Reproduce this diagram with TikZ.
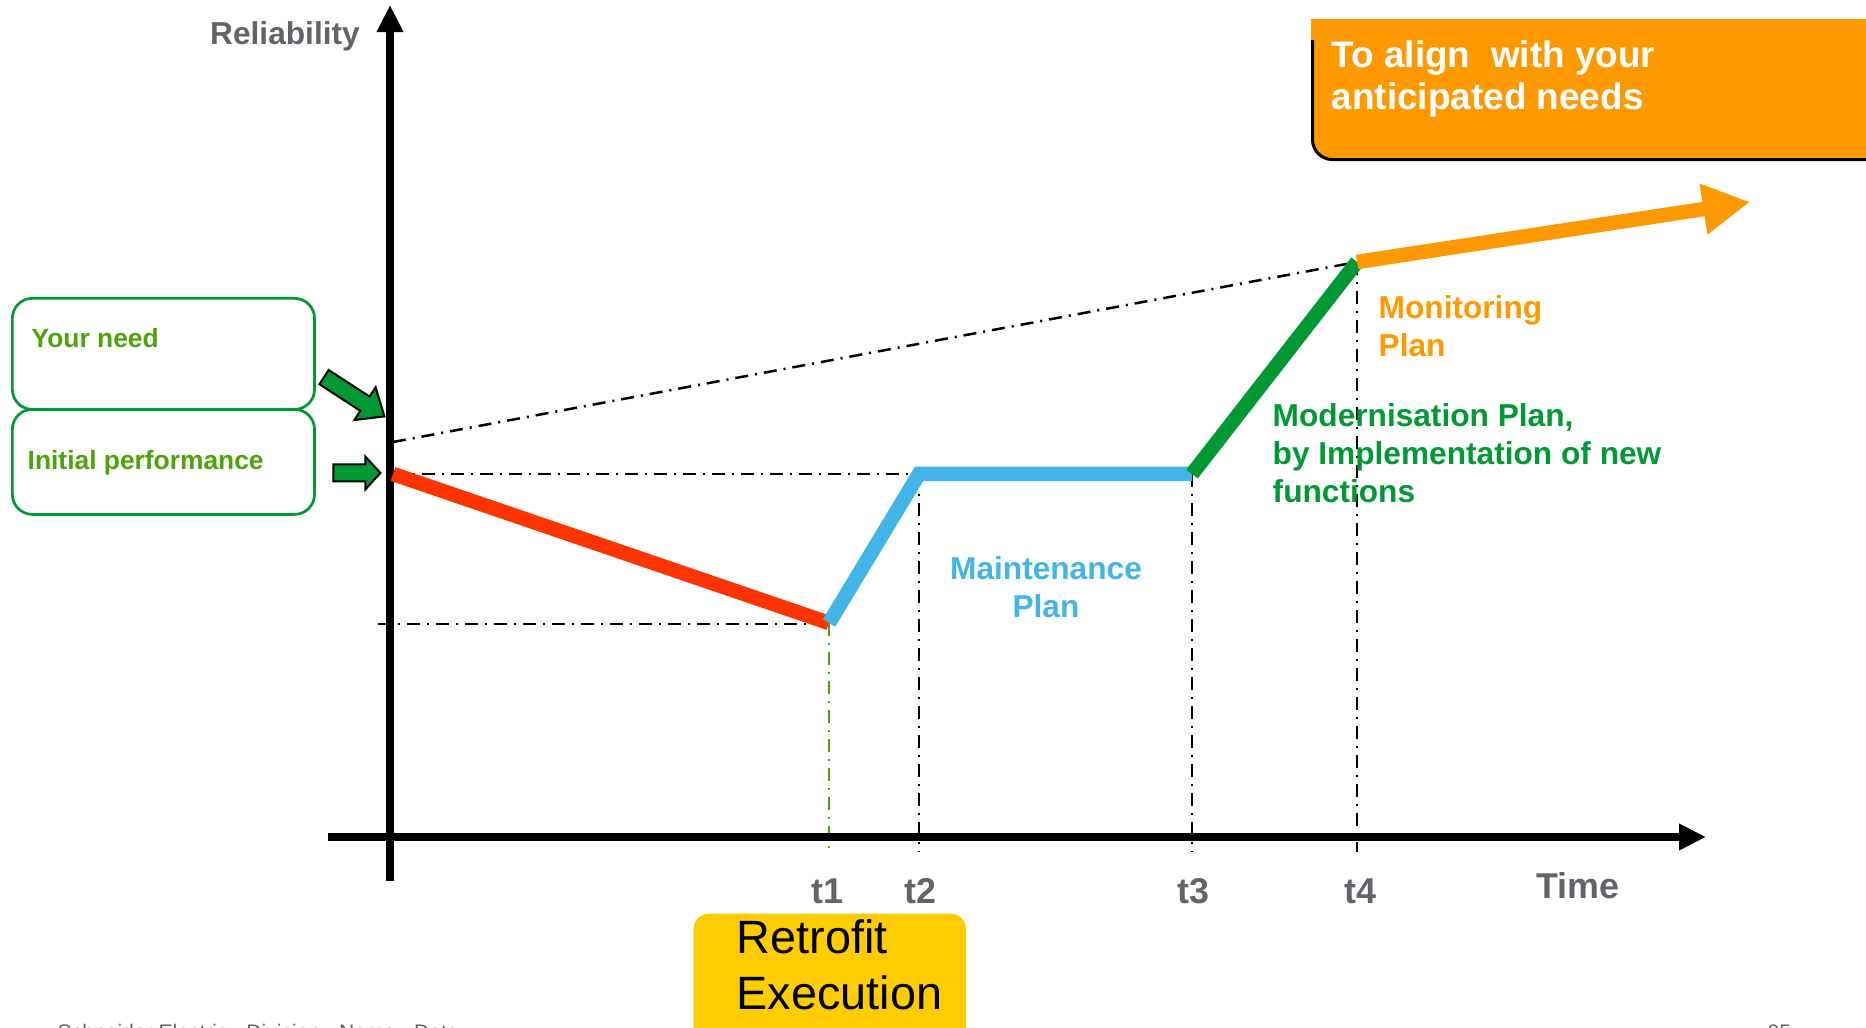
\documentclass[tikz,border=0pt]{standalone}
\usepackage{fontspec}
\setmainfont{Liberation Sans}
\usetikzlibrary{arrows.meta,shapes.arrows}

\definecolor{segray}{HTML}{626469}
\definecolor{segreen}{HTML}{009933}
\definecolor{lightgreen}{HTML}{4CA30A}
\definecolor{seblue}{HTML}{42B4E6}
\definecolor{sered}{HTML}{FF3300}
\definecolor{seorange}{HTML}{FF9900}
\definecolor{seyellow}{HTML}{FFCC00}

\begin{document}
\begin{tikzpicture}[x=0.01cm, y=-0.01cm,
  lbl/.style = {font=\bfseries\fontsize{10.2}{12}\selectfont, text=segray, inner sep=0},
  plan/.style = {font=\bfseries\fontsize{9}{10.9}\selectfont, inner sep=0},
  boxtext/.style = {font=\bfseries\fontsize{7.5}{9}\selectfont, text=lightgreen, inner sep=0},
  axis/.style = {line width=0.08cm, -{Triangle[length=0.27cm, width=0.25cm]}},
  curve/.style = {line width=0.145cm, line cap=butt},
  guide/.style = {line width=0.025cm, dash pattern=on 0.13cm off 0.07cm on 0.02cm off 0.07cm},
  gbox/.style = {draw=segreen, line width=0.027cm, rounded corners=0.2cm, minimum width=3.02cm, anchor=north west},
  blockarrow/.style = {single arrow, draw=black, fill=segreen, line width=0.02cm, inner xsep=0, inner ysep=0.075cm, minimum width=0}]

\useasboundingbox (0,0) rectangle (1866,1028);

\coordinate (yfoot) at (390,881);
\coordinate (ytop) at (390,5);
\coordinate (xfoot) at (328,837);
\coordinate (xtip) at (1706,837);

\coordinate (P0) at (393,474);
\coordinate (P1) at (829,623);
\coordinate (P2) at (919,474);
\coordinate (P3) at (1192,474);
\coordinate (P4) at (1357,262);
\coordinate (P5) at (1750,202);

\coordinate (Q0) at (393,442);
\coordinate (L1) at (378,624);
\coordinate (D) at (0,852);

\draw[guide] (Q0) -- (P4);
\draw[guide] (P0) -- (P2);
\draw[guide] (L1) -- (L1 -| P1);
\draw[guide, lightgreen] (P1) -- (P1 |- D);
\draw[guide] (P2) -- (P2 |- D);
\draw[guide] (P3) -- (P3 |- D);
\draw[guide] (P4) -- (P4 |- D);

\draw[axis] (yfoot) -- (ytop);
\draw[axis] (xfoot) -- (xtip);

\draw[curve, sered] (P0) -- (P1);
\draw[curve, seblue, line join=miter] (P1) -- (P2) -- (P3);
\draw[curve, segreen] (P3) -- (P4);
\draw[curve, seorange, -{Triangle[length=0.47cm, width=0.48cm]}] (P4) -- (P5);

\node[lbl, font=\bfseries\fontsize{9}{10}\selectfont, anchor=base] (rel) at (285,45) {Reliability};
\node[lbl, anchor=base east] (time) at (1620,899) {Time};
\node[lbl, anchor=base] (t1) at (827,904) {t1};
\node[lbl, anchor=base] (t2) at (920,904) {t2};
\node[lbl, anchor=base] (t3) at (1193,904) {t3};
\node[lbl, anchor=base] (t4) at (1360,904) {t4};

\node[gbox, minimum height=1.11cm] (needbox) at (11,297) {};
\node[gbox, minimum height=1.05cm] (perfbox) at (11,408) {};
\node[boxtext, anchor=base west] (need) at (31,348) {Your need};
\node[boxtext, anchor=base west] (perf) at (27,470) {Initial performance};

\node[blockarrow, rotate=-33, minimum height=0.72cm, single arrow head extend=0.11cm, single arrow tip angle=80] (needarrow) at (350,394) {};
\node[blockarrow, minimum height=0.47cm, single arrow head extend=0.08cm, single arrow tip angle=95] (perfarrow) at (353,473) {};

\node[plan, text=seblue, align=center, anchor=base] (maint) at (1046,618) {Maintenance\\Plan};
\node[plan, text=seorange, align=left, anchor=base west] (monit) at (1378,357) {Monitoring\\Plan};
\node[plan, text=segreen, align=left, anchor=base west] (modern) at (1272,503) {Modernisation Plan,\\by Implementation of new\\functions};

\node[fill=seorange, draw=black, line width=0.03cm, rounded corners=0.2cm, anchor=north west, minimum width=5.8cm, minimum height=1.38cm] (alignbox) at (1311,20) {};
\fill[seorange] (1311,19) rectangle (1866,40);
\node[text=white, font=\bfseries\fontsize{10.5}{12.2}\selectfont, align=left, anchor=base west, inner sep=0] (aligntext) at (1331,110) {To align\ \ with your\\anticipated needs};

\node[fill=seyellow, rounded corners=0.15cm, anchor=north west, minimum width=2.72cm, minimum height=1.4cm] (retrobox) at (693,913) {};
\node[font=\fontsize{13.3}{16.2}\selectfont, align=left, anchor=base west, inner sep=0] (retro) at (736,1010) {Retrofit\\Execution};

\node[text=segray, font=\fontsize{6}{7}\selectfont, anchor=base west, inner sep=0] (footer) at (57,1039) {Schneider Electric - Division - Name - Date};
\node[text=segray, font=\fontsize{6}{7}\selectfont, anchor=base west, inner sep=0] (pagenum) at (1767,1039) {05};

\end{tikzpicture}
\end{document}
